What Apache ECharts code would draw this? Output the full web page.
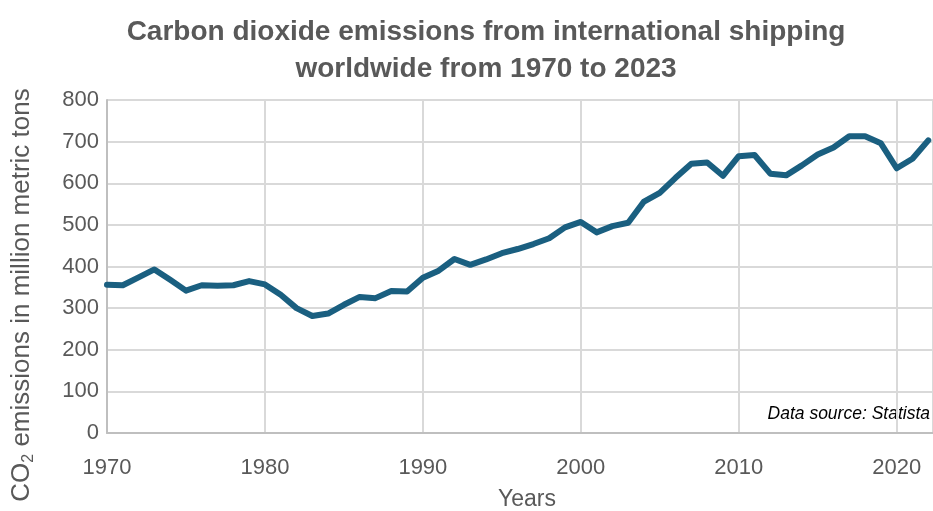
<!DOCTYPE html>
<html>
<head>
<meta charset="utf-8">
<title>CO2 emissions from international shipping</title>
<script src="https://cdn.jsdelivr.net/npm/echarts@6/dist/echarts.min.js"></script>
<style>
  html, body { margin: 0; padding: 0; background: #ffffff; }
  #chart { width: 933px; height: 511px; }
</style>
</head>
<body>
<div id="chart"></div>
<script>
// Annual CO2 emissions from international shipping (million metric tons)
const years = [
  1970, 1971, 1972, 1973, 1974, 1975, 1976, 1977, 1978, 1979,
  1980, 1981, 1982, 1983, 1984, 1985, 1986, 1987, 1988, 1989,
  1990, 1991, 1992, 1993, 1994, 1995, 1996, 1997, 1998, 1999,
  2000, 2001, 2002, 2003, 2004, 2005, 2006, 2007, 2008, 2009,
  2010, 2011, 2012, 2013, 2014, 2015, 2016, 2017, 2018, 2019,
  2020, 2021, 2022
];
const emissions = [
  356, 355, 374, 393, 368, 342, 355, 354, 355, 365,
  357, 332, 300, 281, 287, 308, 327, 324, 341, 340,
  373, 390, 418, 404, 417, 432, 442, 454, 468, 494,
  507, 482, 497, 505, 556, 577, 613, 647, 650, 618,
  665, 668, 623, 619, 643, 669, 686, 713, 713, 696,
  636, 659, 703
];
const yTicks = { min: 0, max: 800, step: 100 };
// the visible window ends a little past 2022
const xTicks = { min: 1970, max: 2022.3, step: 10 };

const textColor = '#595959';
const gridColor = '#d9d9d9';
const lineColor = '#1a5f80';
const fontFamily = '"Liberation Sans", Arial, sans-serif';

const chart = echarts.init(document.getElementById('chart'), null, { renderer: 'canvas' });

chart.setOption({
  animation: false,
  backgroundColor: '#ffffff',
  textStyle: { fontFamily: fontFamily },
  title: {
    text: 'Carbon dioxide emissions from international shipping\nworldwide from 1970 to 2023',
    left: 481,
    top: 9,
    textAlign: 'center',
    textStyle: {
      fontFamily: fontFamily,
      fontSize: 28,
      fontWeight: 'bold',
      color: textColor,
      lineHeight: 37
    }
  },
  grid: {
    left: 107,
    right: 0,
    top: 100,
    bottom: 78,
    containLabel: false,
    outerBoundsMode: 'none'
  },
  xAxis: {
    type: 'value',
    min: xTicks.min,
    max: xTicks.max,
    interval: xTicks.step,
    axisLine: { show: true, lineStyle: { color: '#bfbfbf', width: 2 } },
    axisTick: { show: false },
    axisLabel: {
      fontSize: 22,
      color: textColor,
      margin: 24,
      fontFamily: fontFamily,
      showMaxLabel: false,
      formatter: function (v) { return v % 10 === 0 ? String(v) : ''; }
    },
    splitLine: { show: true, lineStyle: { color: gridColor, width: 2 } }
  },
  yAxis: {
    type: 'value',
    min: yTicks.min,
    max: yTicks.max,
    interval: yTicks.step,
    axisLine: { show: true, lineStyle: { color: '#bfbfbf', width: 2 } },
    axisTick: { show: false },
    axisLabel: { fontSize: 22, color: textColor, margin: 8, fontFamily: fontFamily },
    splitLine: { show: true, lineStyle: { color: gridColor, width: 2 } }
  },
  graphic: [
    {
      // x-axis title
      type: 'text',
      x: 527,
      y: 500,
      style: {
        text: 'Years',
        align: 'center',
        verticalAlign: 'middle',
        fontSize: 23,
        fontFamily: fontFamily,
        fill: textColor
      }
    },
    {
      // y-axis title with subscript 2
      type: 'text',
      x: 22,
      y: 295,
      rotation: Math.PI / 2,
      style: {
        text: '{a|CO}{s|2}{a| emissions in million metric tons}',
        align: 'center',
        verticalAlign: 'middle',
        fill: textColor,
        rich: {
          a: { fontSize: 26, fontFamily: fontFamily, fill: textColor, lineHeight: 29, verticalAlign: 'middle' },
          s: { fontSize: 16, fontFamily: fontFamily, fill: textColor, lineHeight: 16, verticalAlign: 'bottom' }
        }
      }
    },
    {
      type: 'text',
      right: 3,
      top: 405,
      style: {
        text: 'Data source: Statista',
        fontSize: 17.5,
        fontStyle: 'italic',
        fontFamily: fontFamily,
        fill: '#000000'
      }
    }
  ],
  series: [
    {
      type: 'line',
      data: years.map(function (y, i) { return [y, emissions[i]]; }),
      showSymbol: false,
      symbol: 'none',
      lineStyle: { color: lineColor, width: 6, cap: 'round', join: 'round' },
      clip: false
    }
  ]
});
</script>
</body>
</html>
